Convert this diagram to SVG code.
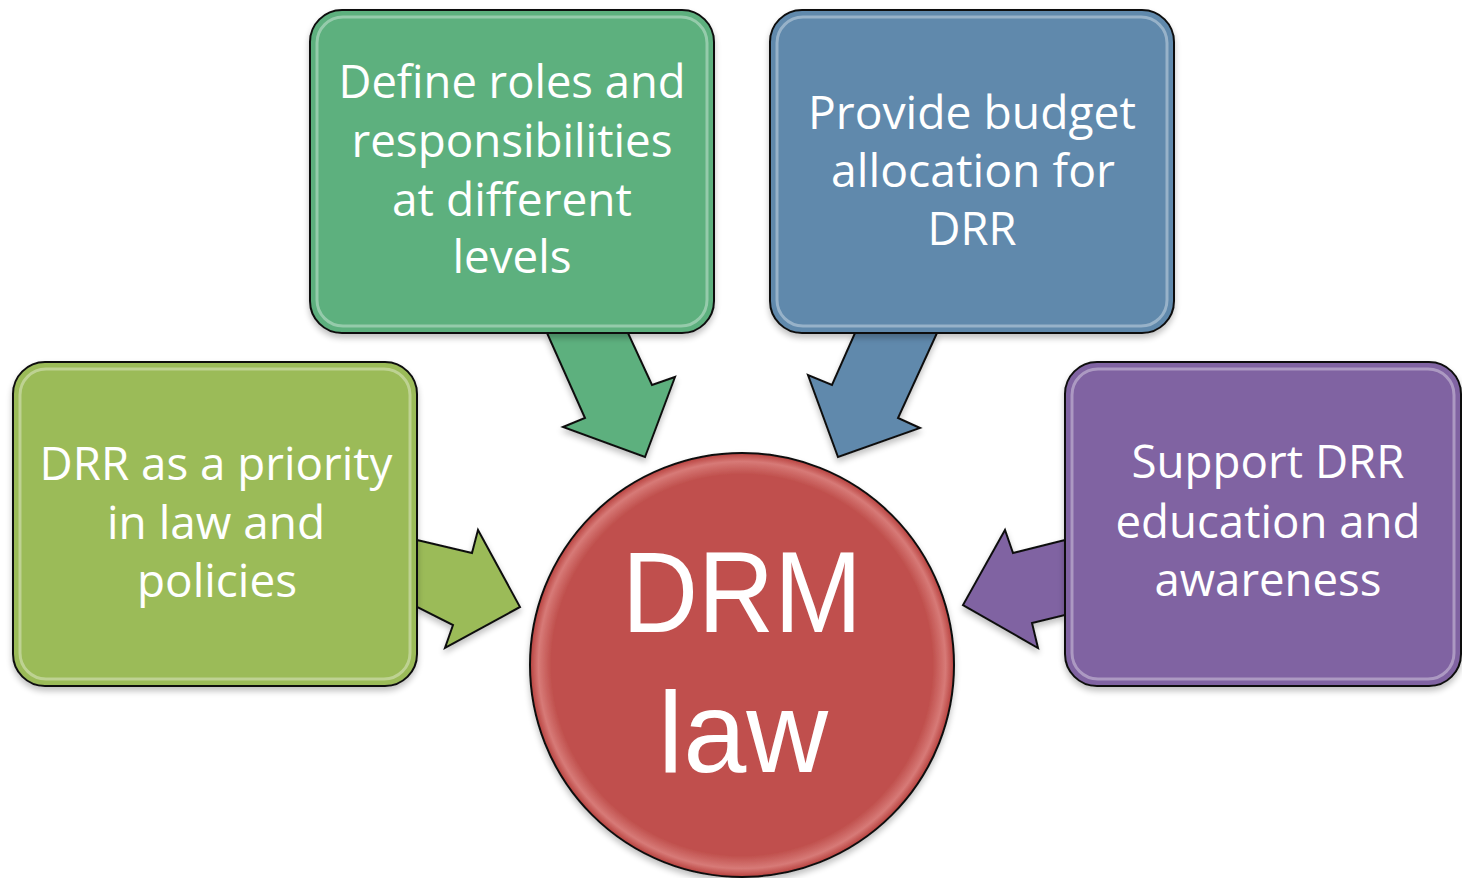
<svg xmlns="http://www.w3.org/2000/svg" width="1462" height="878" viewBox="0 0 1462 878">
<style>
  .lbl { font-family: "Open Sans", "Liberation Sans", sans-serif; font-size: 45px; fill: #ffffff; text-anchor: middle; }
  .big { font-family: "Liberation Sans", "Open Sans", sans-serif; font-size: 115px; fill: #ffffff; text-anchor: middle; }
  .box { stroke: #111111; stroke-width: 2; filter: url(#sh); }
  .hl { fill: none; stroke: #ffffff; stroke-opacity: 0.35; stroke-width: 3; }
  .arr { stroke: #111111; stroke-width: 2; stroke-linejoin: miter; filter: url(#sh); }
</style>
<defs>
  <filter id="sh" x="-10%" y="-10%" width="120%" height="125%">
    <feGaussianBlur in="SourceAlpha" stdDeviation="3"/>
    <feOffset dx="0" dy="4" result="b"/>
    <feComponentTransfer><feFuncA type="linear" slope="0.25"/></feComponentTransfer>
    <feMerge><feMergeNode/><feMergeNode in="SourceGraphic"/></feMerge>
  </filter>
  <radialGradient id="rg" cx="0.5" cy="0.5" r="0.5">
    <stop offset="0.9" stop-color="#C0504D"/>
    <stop offset="0.96" stop-color="#D77A77"/>
    <stop offset="1" stop-color="#B8413E"/>
  </radialGradient>
</defs>
<rect width="1462" height="878" fill="#ffffff"/>

<g id="connectors">
  <polygon class="arr" fill="#5DB07E" points="547,333 628,333 652,385 675,377 645,457 563,427 585,418"/>
  <polygon class="arr" fill="#6089AC" points="855,333 937,333 898,418 920,428 838,457 808,375 832,385"/>
  <polygon class="arr" fill="#9BBB59" points="417,540 472,553 478,530 520,607 445,648 453,625 417,607"/>
  <polygon class="arr" fill="#8064A2" points="1065,540 1013,553 1005,530 963,605 1038,648 1032,623 1065,615"/>
</g>

<g id="node-priority">
  <rect class="box" x="13" y="362" width="404" height="324" rx="32" fill="#9BBB59"/>
  <rect class="hl" x="20" y="369" width="390" height="310" rx="26"/>
  <text class="lbl" x="216" y="480" textLength="353" lengthAdjust="spacingAndGlyphs">DRR as a priority</text>
  <text class="lbl" x="216" y="539" textLength="218" lengthAdjust="spacingAndGlyphs">in law and</text>
  <text class="lbl" x="217" y="597" textLength="160" lengthAdjust="spacingAndGlyphs">policies</text>
</g>

<g id="node-roles">
  <rect class="box" x="310" y="10" width="404" height="323" rx="32" fill="#5DB07E"/>
  <rect class="hl" x="317" y="17" width="390" height="309" rx="26"/>
  <text class="lbl" x="512" y="98" textLength="347" lengthAdjust="spacingAndGlyphs">Define roles and</text>
  <text class="lbl" x="512" y="157" textLength="321" lengthAdjust="spacingAndGlyphs">responsibilities</text>
  <text class="lbl" x="512" y="216" textLength="240" lengthAdjust="spacingAndGlyphs">at different</text>
  <text class="lbl" x="512" y="273" textLength="119" lengthAdjust="spacingAndGlyphs">levels</text>
</g>

<g id="node-budget">
  <rect class="box" x="770" y="10" width="404" height="323" rx="32" fill="#6089AC"/>
  <rect class="hl" x="777" y="17" width="390" height="309" rx="26"/>
  <text class="lbl" x="972" y="129" textLength="328" lengthAdjust="spacingAndGlyphs">Provide budget</text>
  <text class="lbl" x="973" y="187" textLength="284" lengthAdjust="spacingAndGlyphs">allocation for</text>
  <text class="lbl" x="972" y="245" textLength="89" lengthAdjust="spacingAndGlyphs">DRR</text>
</g>

<g id="node-education">
  <rect class="box" x="1065" y="362" width="396" height="324" rx="32" fill="#8064A2"/>
  <rect class="hl" x="1072" y="369" width="382" height="310" rx="26"/>
  <text class="lbl" x="1268" y="478" textLength="273" lengthAdjust="spacingAndGlyphs">Support DRR</text>
  <text class="lbl" x="1268" y="538" textLength="305" lengthAdjust="spacingAndGlyphs">education and</text>
  <text class="lbl" x="1268" y="596" textLength="227" lengthAdjust="spacingAndGlyphs">awareness</text>
</g>

<g id="node-drm">
  <circle cx="742" cy="665" r="212" fill="url(#rg)" stroke="#111111" stroke-width="2" filter="url(#sh)"/>
  <text class="big" x="742" y="632" textLength="240" lengthAdjust="spacingAndGlyphs">DRM</text>
  <text class="big" x="743" y="772" textLength="170" lengthAdjust="spacingAndGlyphs">law</text>
</g>
</svg>
